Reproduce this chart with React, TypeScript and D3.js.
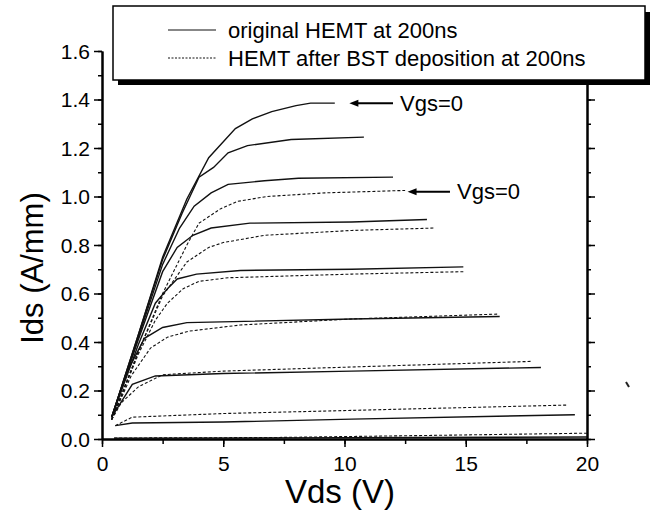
import React, { useEffect, useRef } from "react";
import * as d3 from "d3";

// original HEMT at 200ns (Vds, Ids)
const orig1 = [[0.4, 0.09], [1.5, 0.43], [2.5, 0.75], [3.5, 0.99], [4.4, 1.16], [5.5, 1.28], [6.2, 1.32], [7, 1.35], [8, 1.375], [8.6, 1.385], [9.6, 1.385]];
const orig2 = [[0.4, 0.09], [1.5, 0.43], [2.5, 0.74], [3.3, 0.93], [4, 1.08], [4.6, 1.12], [5.2, 1.18], [6, 1.21], [7.8, 1.235], [10.8, 1.245]];
const orig3 = [[0.4, 0.09], [1.5, 0.42], [2.5, 0.72], [3.2, 0.87], [3.8, 0.96], [4.5, 1.015], [5.2, 1.05], [6.7, 1.065], [8.1, 1.075], [12, 1.08]];
const orig4 = [[0.4, 0.09], [1.5, 0.41], [2.5, 0.69], [3.1, 0.79], [3.75, 0.84], [4.5, 0.87], [6.1, 0.89], [10.3, 0.895], [13.4, 0.905]];
const orig5 = [[0.4, 0.09], [1.5, 0.39], [2.2, 0.56], [2.7, 0.62], [3.1, 0.66], [3.9, 0.68], [5.7, 0.695], [10.3, 0.7], [14.9, 0.71]];
const orig6 = [[0.4, 0.09], [1, 0.27], [1.75, 0.415], [2.5, 0.46], [3.5, 0.48], [10.3, 0.495], [16.4, 0.505]];
const orig7 = [[0.4, 0.09], [1.25, 0.225], [2.2, 0.26], [5, 0.27], [10.3, 0.28], [18.1, 0.295]];
const orig8 = [[0.55, 0.055], [1.25, 0.066], [5, 0.07], [10.3, 0.082], [19.5, 0.1]];
const orig9 = [[0.5, 0.003], [10, 0.005], [20, 0.008]];

// HEMT after BST deposition at 200ns
const bst1 = [[0.4, 0.08], [1.5, 0.36], [2.5, 0.6], [3.5, 0.8], [4, 0.89], [4.9, 0.95], [5.6, 0.98], [6.8, 1.0], [9.2, 1.015], [12.5, 1.025]];
const bst2 = [[0.4, 0.08], [1.5, 0.36], [2.5, 0.59], [3.5, 0.73], [4.4, 0.79], [5, 0.81], [6.7, 0.84], [10.3, 0.86], [13.7, 0.87]];
const bst3 = [[0.4, 0.08], [1.5, 0.35], [2.2, 0.49], [2.7, 0.56], [3.35, 0.62], [4, 0.65], [5.2, 0.665], [10.3, 0.68], [14.9, 0.69]];
const bst4 = [[0.4, 0.08], [1.2, 0.26], [2, 0.375], [2.7, 0.42], [3.6, 0.445], [5.7, 0.47], [10.3, 0.495], [16.3, 0.515]];
const bst5 = [[0.4, 0.08], [0.8, 0.15], [1.5, 0.215], [2.5, 0.265], [5, 0.28], [10.3, 0.297], [17.7, 0.32]];
const bst6 = [[0.55, 0.055], [1.25, 0.09], [5, 0.105], [10.3, 0.118], [19.2, 0.14]];
const bst7 = [[0.5, 0.004], [7, 0.006], [13, 0.014], [20, 0.024]];

const originalCurves = [orig1, orig2, orig3, orig4, orig5, orig6, orig7, orig8, orig9];
const bstCurves = [bst1, bst2, bst3, bst4, bst5, bst6, bst7];

const legendLabels = ["original HEMT at 200ns", "HEMT after BST deposition at 200ns"];
// arrow annotations: [tail Vds, head Vds, Ids]
const annotations = [[12.0, 10.2, 1.385], [14.35, 12.6, 1.02]];

const W = 650;
const H = 521;
const FONT = "'Liberation Sans', Arial, sans-serif";

export default function App() {
  const ref = useRef<SVGSVGElement | null>(null);

  useEffect(() => {
    const svg = d3.select(ref.current);
    svg.selectAll("*").remove();

    const x = d3.scaleLinear().domain([0, 20]).range([102, 587]);
    const y = d3.scaleLinear().domain([0, 1.6]).range([439, 51]);

    svg.append("rect").attr("width", W).attr("height", H).attr("fill", "#fff");

    const styleAxis = (g: any) => {
      g.selectAll(".domain").attr("stroke", "#000").attr("stroke-width", 2);
      g.selectAll(".tick line").attr("stroke", "#000").attr("stroke-width", 1.5);
      g.selectAll("text").attr("font-family", FONT).attr("fill", "#000");
    };

    // minor ticks
    const minorY = d3.range(0, 1.61, 0.1);
    const minorX = d3.range(0, 20.1, 2.5);

    svg.append("g").attr("transform", `translate(${x(0)},0)`)
      .call(d3.axisLeft(y).tickValues(minorY).tickSize(4).tickFormat(() => "").tickSizeOuter(0))
      .call(styleAxis);
    svg.append("g").attr("transform", `translate(${x(20)},0)`)
      .call(d3.axisRight(y).tickValues(minorY).tickSize(4).tickFormat(() => "").tickSizeOuter(0))
      .call(styleAxis);
    svg.append("g").attr("transform", `translate(0,${y(0)})`)
      .call(d3.axisBottom(x).tickValues(minorX).tickSize(5).tickFormat(() => "").tickSizeOuter(0))
      .call(styleAxis);

    // major ticks
    svg.append("g").attr("transform", `translate(${x(0)},0)`)
      .call(d3.axisLeft(y).ticks(8).tickSize(8).tickPadding(4).tickFormat(d3.format(".1f")).tickSizeOuter(0))
      .call(styleAxis)
      .selectAll("text").attr("font-size", 21).attr("dy", "0.35em");
    svg.append("g").attr("transform", `translate(${x(20)},0)`)
      .call(d3.axisRight(y).ticks(8).tickSize(8).tickFormat(() => "").tickSizeOuter(0))
      .call(styleAxis);
    svg.append("g").attr("transform", `translate(0,${y(0)})`)
      .call(d3.axisBottom(x).tickValues([0, 5, 10, 15, 20]).tickSize(8).tickPadding(9).tickFormat(d3.format("d")).tickSizeOuter(0))
      .call(styleAxis)
      .selectAll("text").attr("font-size", 21);

    const line = d3.line<number[]>().x((d) => x(d[0])).y((d) => y(d[1]));

    svg.append("g").selectAll("path").data(originalCurves).join("path")
      .attr("d", line).attr("fill", "none").attr("stroke", "#111").attr("stroke-width", 1.4);

    svg.append("g").selectAll("path").data(bstCurves).join("path")
      .attr("d", line).attr("fill", "none").attr("stroke", "#111").attr("stroke-width", 1.1)
      .attr("stroke-dasharray", "3,2");

    // arrows
    annotations.forEach(([tail, head, v]) => {
      const x0 = x(tail), x1 = x(head), yy = y(v);
      svg.append("line").attr("x1", x0).attr("x2", x1 + 6).attr("y1", yy).attr("y2", yy)
        .attr("stroke", "#000").attr("stroke-width", 2);
      svg.append("path")
        .attr("d", `M${x1},${yy}L${x1 + 9},${yy - 3.5}L${x1 + 9},${yy + 3.5}Z`)
        .attr("fill", "#000");
      svg.append("text").attr("x", x0 + 7).attr("y", yy).attr("dy", "0.35em")
        .attr("font-family", FONT).attr("font-size", 22).text("Vgs=0");
    });

    // axis titles
    svg.append("text").attr("transform", `translate(43,268) rotate(-90)`)
      .attr("text-anchor", "middle").attr("font-family", FONT).attr("font-size", 31).text("Ids (A/mm)");
    svg.append("text").attr("x", 340).attr("y", 503)
      .attr("text-anchor", "middle").attr("font-family", FONT).attr("font-size", 33).text("Vds (V)");

    // small speck at right margin
    svg.append("path").attr("d", "M626,382L629,387").attr("stroke", "#222").attr("stroke-width", 2);

    // legend
    const lg = svg.append("g");
    lg.append("rect").attr("x", 118).attr("y", 12).attr("width", 532).attr("height", 73).attr("fill", "#000");
    lg.append("rect").attr("x", 113).attr("y", 6).attr("width", 532).attr("height", 74)
      .attr("fill", "#fff").attr("stroke", "#000").attr("stroke-width", 1.5);
    legendLabels.forEach((label, i) => {
      const ly = 30 + i * 28;
      lg.append("line").attr("x1", 168).attr("x2", 216).attr("y1", ly).attr("y2", ly)
        .attr("stroke", "#111").attr("stroke-width", i === 0 ? 1.2 : 1)
        .attr("stroke-dasharray", i === 0 ? null : "2,1.5");
      lg.append("text").attr("x", 228).attr("y", ly).attr("dy", "0.35em")
        .attr("font-family", FONT).attr("font-size", 22).text(label);
    });
  }, []);

  return (
    <svg ref={ref} width={W} height={H} style={{ position: "absolute", left: 0, top: 0 }} />
  );
}
